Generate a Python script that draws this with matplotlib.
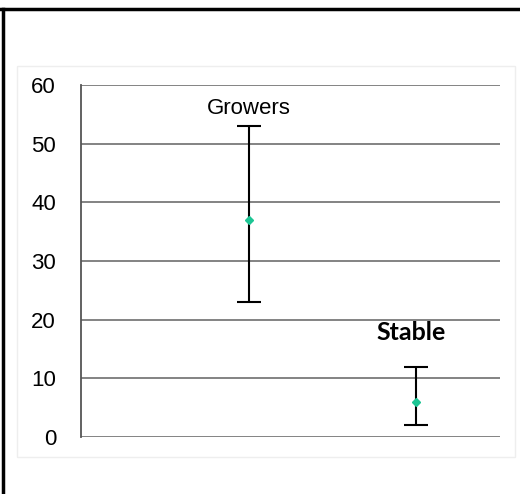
import matplotlib.pyplot as plt
from matplotlib.lines import Line2D
from matplotlib.patches import Rectangle

# Data
groups = ['Growers', 'Stable']
xpos = [1, 2]
means = [37, 6]
lower = [23, 2]
upper = [53, 12]
yticks = [0, 10, 20, 30, 40, 50, 60]

err_lo = [m - l for m, l in zip(means, lower)]
err_hi = [u - m for m, u in zip(means, upper)]

fig = plt.figure(figsize=(5.2, 4.94), dpi=100)
ax = fig.add_axes([0.156, 0.1154, 0.8055, 0.7126])

# faint chart frame and the black border lines
fig.patches.append(Rectangle((17 / 520, 1 - 457 / 494), 498 / 520, 391 / 494,
                             transform=fig.transFigure, fill=False,
                             edgecolor='#eeeeee', lw=1, zorder=0))
fig.lines.append(Line2D([0, 1], [1 - 9 / 494] * 2, transform=fig.transFigure,
                        color='black', lw=2.5))
fig.lines.append(Line2D([2.5 / 520] * 2, [0, 1 - 9 / 494], transform=fig.transFigure,
                        color='black', lw=2.5))

ax.set_xlim(0, 2.5)
ax.set_ylim(0, 60)
for y in yticks:
    ax.axhline(y, color='#7a7a7a', lw=1.3, zorder=1)

ax.errorbar(xpos, means, yerr=[err_lo, err_hi], fmt='none', ecolor='black',
            elinewidth=1.5, capsize=8.5, capthick=1.5, zorder=3)
ax.plot(xpos, means, linestyle='none', marker='D', markersize=4,
        color='#1dc594', zorder=4)

ax.text(xpos[0], 56, groups[0], ha='center', va='center', fontsize=16,
        family='Liberation Sans')
ax.text(xpos[1] - 0.03, 17.8, groups[1], ha='center', va='center', fontsize=18,
        fontweight='bold', family='Lato')

ax.set_xticks([])
ax.set_yticks(yticks)
ax.set_yticklabels([str(v) for v in yticks], fontsize=16, family='Liberation Sans')
ax.tick_params(axis='y', length=0, pad=18)
for s in ['top', 'right', 'bottom']:
    ax.spines[s].set_visible(False)
ax.spines['left'].set_color('#555555')
ax.spines['left'].set_linewidth(1.3)

fig.savefig('out.png', dpi=100)
